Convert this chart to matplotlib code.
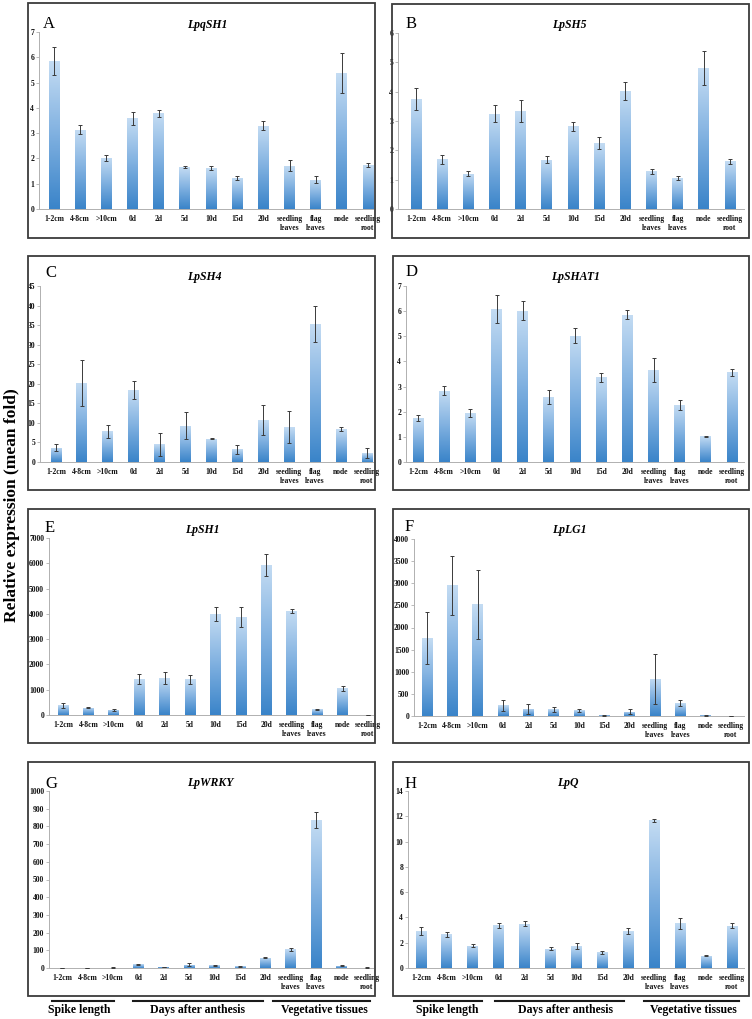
import numpy as np
import matplotlib
matplotlib.use("Agg")
import matplotlib.pyplot as plt
from matplotlib.colors import LinearSegmentedColormap
from matplotlib.patches import Rectangle
from matplotlib.lines import Line2D

plt.rcParams['font.family'] = ['Liberation Serif', 'DejaVu Serif']

W, H = 752, 1019

# ===== DATA
tissues = ['1-2cm', '4-8cm', '>10cm', '0d', '2d', '5d', '10d', '15d', '20d',
           'seedling\nleaves', 'flag\nleaves', 'node', 'seedling\nroot']

genes = ['LpqSH1', 'LpSH5', 'LpSH4', 'LpSHAT1', 'LpSH1', 'LpLG1', 'LpWRKY', 'LpQ']
letters = ['A', 'B', 'C', 'D', 'E', 'F', 'G', 'H']

lpqsh1 = [5.85, 3.14, 2.02, 3.58, 3.78, 1.65, 1.62, 1.24, 3.29, 1.71, 1.15, 5.37, 1.74]
lpqsh1_err = [0.55, 0.19, 0.11, 0.25, 0.13, 0.04, 0.08, 0.08, 0.18, 0.21, 0.14, 0.79, 0.07]

lpsh5 = [3.74, 1.70, 1.20, 3.24, 3.34, 1.68, 2.82, 2.24, 4.03, 1.28, 1.05, 4.80, 1.63]
lpsh5_err = [0.38, 0.15, 0.09, 0.29, 0.37, 0.12, 0.16, 0.20, 0.31, 0.10, 0.07, 0.57, 0.09]

lpsh4 = [3.7, 20.2, 7.8, 18.4, 4.5, 9.3, 6.0, 3.2, 10.7, 8.9, 35.4, 8.4, 2.3]
lpsh4_err = [0.8, 5.8, 1.7, 2.4, 2.9, 3.4, 0.15, 1.2, 3.8, 4.1, 4.6, 0.55, 1.2]

lpshat1 = [1.76, 2.84, 1.94, 6.09, 6.02, 2.59, 5.03, 3.37, 5.85, 3.65, 2.26, 1.02, 3.56]
lpshat1_err = [0.11, 0.18, 0.15, 0.56, 0.37, 0.27, 0.30, 0.18, 0.18, 0.47, 0.19, 0.02, 0.14]

lpsh1 = [380, 290, 200, 1410, 1450, 1410, 4000, 3880, 5940, 4120, 220, 1060, 5]
lpsh1_err = [85, 30, 30, 200, 240, 170, 290, 380, 435, 70, 30, 100, 3]

lplg1 = [1760, 2950, 2520, 240, 165, 150, 125, 15, 98, 845, 290, 15, 5]
lplg1_err = [585, 670, 790, 125, 110, 55, 30, 8, 60, 565, 75, 10, 3]

lpwrky = [0.5, 1, 2, 21, 6, 19, 15, 11, 58, 106, 834, 13, 2]
lpwrky_err = [0.3, 0.5, 1, 4, 2, 7, 3, 3, 4, 8, 45, 3, 1]

lpq = [2.91, 2.67, 1.77, 3.38, 3.51, 1.53, 1.74, 1.24, 2.91, 11.67, 3.54, 0.98, 3.35]
lpq_err = [0.30, 0.20, 0.10, 0.20, 0.17, 0.12, 0.20, 0.12, 0.22, 0.13, 0.45, 0.05, 0.20]

values = [lpqsh1, lpsh5, lpsh4, lpshat1, lpsh1, lplg1, lpwrky, lpq]
errors = [lpqsh1_err, lpsh5_err, lpsh4_err, lpshat1_err, lpsh1_err, lplg1_err, lpwrky_err, lpq_err]
ymax = [7, 6, 45, 7, 7000, 4000, 1000, 14]
ystep = [1, 1, 5, 1, 1000, 500, 100, 2]

groups = ['Spike length', 'Days after anthesis', 'Vegetative tissues']

# ===== LAYOUT (pixels)
# box x0, y0, x1, y1 ; axis left, right, top, bottom ; first/last bar centre
boxes = [(28, 3, 375, 238), (392, 4, 749, 238),
         (28, 256, 375, 490), (393, 256, 749, 490),
         (28, 509, 375, 743), (393, 509, 749, 743),
         (28, 762, 375, 996), (393, 762, 749, 996)]
axpix = [(39, 373, 32, 209, 54, 368), (398, 744, 33, 209, 416, 730),
         (40, 373, 286, 462, 56, 367), (406, 744, 286, 462, 418, 732),
         (49, 373, 538, 715, 63, 368), (414, 744, 539, 716, 427, 731),
         (49, 373, 791, 968, 62, 367), (408, 744, 791, 968, 421, 732)]
letter_pos = [(43, 24), (406, 24), (45, 273), (406, 272),
              (45, 528), (405, 527), (45, 784), (405, 784)]
title_pos = [(207, 25), (569, 25), (204, 277), (576, 277),
             (202, 530), (569, 530), (210, 783), (568, 783)]


def fx(x):
    return x / W


def fy(y):
    return 1 - y / H


fig = plt.figure(figsize=(W / 100, H / 100), dpi=100)

cmap = LinearSegmentedColormap.from_list('bar', ['#3a84c9', '#7fb0e0', '#c4dcf3'])
grad = np.linspace(0, 1, 128).reshape(-1, 1)

for i in range(8):
    x0, y0, x1, y1 = boxes[i]
    fig.add_artist(Rectangle((fx(x0), fy(y1)), fx(x1 - x0), (y1 - y0) / H,
                             transform=fig.transFigure, fill=False,
                             ec='#3c3c3c', lw=1.3))

    L, R, T, B, c0, c12 = axpix[i]
    ax = fig.add_axes((fx(L), fy(B), fx(R - L), (B - T) / H))
    s = (c12 - c0) / 12
    xlo = -(c0 - L) / s
    xhi = 12 + (R - c12) / s

    x = np.arange(len(tissues))
    bars = ax.bar(x, values[i], width=0.42, color='#c4dcf3', zorder=1)
    for b in bars:
        im = ax.imshow(grad, cmap=cmap, origin='lower', aspect='auto',
                       extent=(b.get_x(), b.get_x() + b.get_width(), 0, b.get_height()),
                       zorder=2, interpolation='bilinear')
        im.set_clip_path(b)
    ax.errorbar(x, values[i], yerr=errors[i], fmt='none', ecolor='#3a3a3a',
                elinewidth=0.7, capsize=1.3, capthick=0.7, zorder=3)

    ax.set_xlim(xlo, xhi)
    ax.set_ylim(0, ymax[i])
    ax.set_yticks(np.arange(0, ymax[i] + ystep[i] / 2, ystep[i]))
    ax.set_xticks(x)
    ax.set_xticklabels(tissues, linespacing=1.25)
    ax.tick_params(axis='x', length=0, pad=4, labelsize=5.5, labelcolor='#111111')
    ax.tick_params(axis='y', length=2, width=0.5, color='#a0a0a0', pad=1.5,
                   labelsize=5.5, labelcolor='#111111')
    for lab in ax.get_xticklabels() + ax.get_yticklabels():
        lab.set_fontweight('bold')
    for sp in ['top', 'right']:
        ax.spines[sp].set_visible(False)
    for sp in ['left', 'bottom']:
        ax.spines[sp].set_color('#b0b0b0')
        ax.spines[sp].set_linewidth(0.7)
    ax.patch.set_alpha(0)

    lx, ly = letter_pos[i]
    fig.text(fx(lx), fy(ly), letters[i], fontsize=12, ha='left', va='center')
    tx, ty = title_pos[i]
    fig.text(fx(tx), fy(ty), genes[i], fontsize=8.5, fontweight='bold',
             fontstyle='italic', ha='center', va='center')

fig.text(fx(12), fy(505), 'Relative expression (mean fold)', rotation=90,
         fontsize=12.5, fontweight='bold', ha='center', va='center')

# group brackets under the bottom panels
group_lines = [[(52, 114), (133, 263), (273, 370)],
               [(414, 482), (495, 624), (644, 739)]]
group_text = [[79, 198, 324], [447, 566, 693]]
for lines, centres in zip(group_lines, group_text):
    for (a, b), c, g in zip(lines, centres, groups):
        fig.add_artist(Line2D([fx(a), fx(b)], [fy(1001), fy(1001)],
                              transform=fig.transFigure, color='#1a1a1a', lw=1.5))
        fig.text(fx(c), fy(1010), g, fontsize=8.5, fontweight='bold',
                 ha='center', va='center')

fig.savefig('out.png', dpi=100, facecolor='white')
